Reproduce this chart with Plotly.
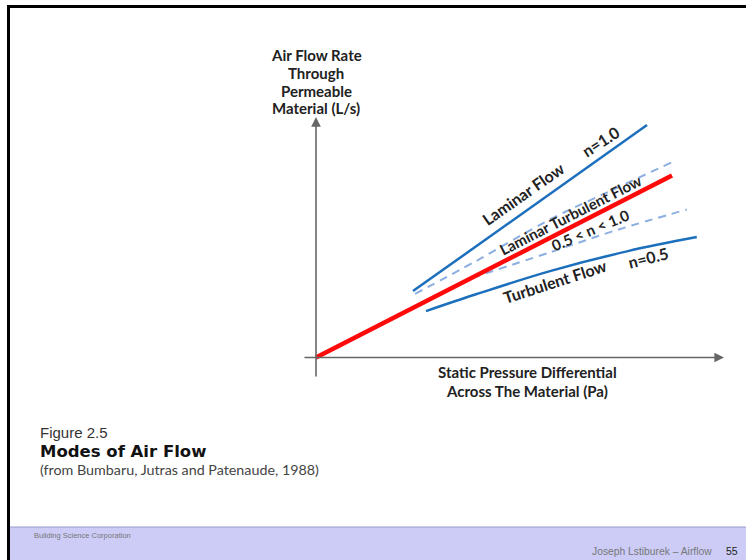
import plotly.graph_objects as go

W, H = 746, 560

# ---- data (pressure in arbitrary units, flow in arbitrary units) ----
ltf_pressure = [0, 89]
ltf_flow = [0, 45.5]

laminar_pressure = [24.25, 82.75]
laminar_flow = [16.6, 58.1]

upper_band_pressure = [24.75, 40, 58.5, 75, 88.9]
upper_band_flow = [15.9, 24.1, 34.5, 42.3, 48.8]

lower_band_pressure = [39, 58.5, 75, 92.7]
lower_band_flow = [19.9, 26.3, 31.8, 37.0]

turbulent_pressure = [27.5, 40, 58.5, 78, 95.2]
turbulent_flow = [11.6, 15.8, 21.6, 26.6, 30.1]

x_axis_extent = [-3.25, 102]
y_axis_extent = [-5.1, 60.1]

y_title_lines = ["Air Flow Rate", "Through", "Permeable", "Material (L/s)"]
x_title_lines = ["Static Pressure Differential", "Across The Material (Pa)"]

# ---- layout helpers (pixel -> paper) ----
def px(x):
    return x / W

def py(y):
    return 1 - y / H

ORIGIN_X, ORIGIN_Y, K = 316, 357.5, 4.0
xr = [(0 - ORIGIN_X) / K, (W - ORIGIN_X) / K]
yr = [(ORIGIN_Y - H) / K, (ORIGIN_Y - 0) / K]

BLUE = "#1c6fbd"
DASH = "#8caee0"
RED = "#ff0a0a"
TXT = "#222222"
LBL_FONT = "Lato"

fig = go.Figure()

fig.add_trace(go.Scatter(x=upper_band_pressure, y=upper_band_flow, mode="lines",
                         line=dict(color=DASH, width=2, dash="8px,6px", shape="spline"),
                         hoverinfo="skip"))
fig.add_trace(go.Scatter(x=lower_band_pressure, y=lower_band_flow, mode="lines",
                         line=dict(color=DASH, width=2, dash="8px,6px", shape="spline"),
                         hoverinfo="skip"))
fig.add_trace(go.Scatter(x=laminar_pressure, y=laminar_flow, mode="lines",
                         line=dict(color=BLUE, width=2.5), hoverinfo="skip"))
fig.add_trace(go.Scatter(x=turbulent_pressure, y=turbulent_flow, mode="lines",
                         line=dict(color=BLUE, width=2.5, shape="spline"), hoverinfo="skip"))
fig.add_trace(go.Scatter(x=ltf_pressure, y=ltf_flow, mode="lines",
                         line=dict(color=RED, width=4.5), hoverinfo="skip"))

annotations = []

# axes with arrows
annotations.append(dict(x=x_axis_extent[1], y=0, ax=x_axis_extent[0], ay=0,
                        xref="x", yref="y", axref="x", ayref="y", text="",
                        showarrow=True, arrowhead=2, arrowsize=1.2, arrowwidth=1.6,
                        arrowcolor="#666666", standoff=0, startstandoff=0))
annotations.append(dict(x=0, y=y_axis_extent[1], ax=0, ay=y_axis_extent[0],
                        xref="x", yref="y", axref="x", ayref="y", text="",
                        showarrow=True, arrowhead=2, arrowsize=1.2, arrowwidth=1.6,
                        arrowcolor="#666666", standoff=0, startstandoff=0))

def label(text, x, y, angle=0, size=13.5, font=LBL_FONT, color=TXT, xanchor="center",
          yanchor="middle", align="center"):
    annotations.append(dict(text=text, x=px(x), y=py(y), xref="paper", yref="paper",
                            showarrow=False, textangle=angle, xanchor=xanchor,
                            yanchor=yanchor, align=align, borderpad=0,
                            font=dict(family=font, size=size, color=color)))

# axis titles (one annotation per line for exact line spacing)
for i, line in enumerate(y_title_lines):
    label("<b>%s</b>" % line, 316, 55 + i * 17.8, size=15)
for i, line in enumerate(x_title_lines):
    label("<b>%s</b>" % line, 527, 372 + i * 19, size=15)

# curve labels
label("<b>Laminar Flow</b>", 523, 193, angle=-35, size=16)
label("<b>n=1.0</b>", 600, 141, angle=-33, size=16)
label("<b>Laminar Turbulent Flow</b>", 570, 215, angle=-27, size=15)
label("<b>0.5 &lt; n &lt; 1.0</b>", 590, 230, angle=-23, size=15)
label("<b>Turbulent Flow</b>", 554, 281, angle=-18, size=16)
label("<b>n=0.5</b>", 648, 258, angle=-14, size=16)

# caption
label("Figure 2.5", 39, 432, xanchor="left", size=15, font="Liberation Sans",
      color="#333333")
label("<b>Modes of Air Flow</b>", 39, 451, xanchor="left", size=16.5,
      font="DejaVu Sans", color="#111111")
label("(from Bumbaru, Jutras and Patenaude, 1988)", 39, 469, xanchor="left",
      size=14.3, font="Lato", color="#444444")

# footer
label("Building Science Corporation", 33, 535, xanchor="left", size=7.5,
      font="Liberation Sans", color="#777777")
label("Joseph Lstiburek \u2013 Airflow", 713, 551, xanchor="right", size=10.3,
      font="Liberation Sans", color="#777777")
label("55", 725, 551, xanchor="left", size=10.5, font="Liberation Sans",
      color="#222222")

shapes = [
    # footer band
    dict(type="rect", xref="paper", yref="paper", x0=px(10), x1=1, y0=0, y1=py(527),
         fillcolor="#ccccf7", line=dict(width=0), layer="below"),
    dict(type="line", xref="paper", yref="paper", x0=px(10), x1=1, y0=py(527), y1=py(527),
         line=dict(color="#9a9acc", width=1.2)),
    # slide border
    dict(type="line", xref="paper", yref="paper", x0=px(7), x1=1, y0=py(6.5), y1=py(6.5),
         line=dict(color="#000000", width=3)),
    dict(type="line", xref="paper", yref="paper", x0=px(8.5), x1=px(8.5), y0=py(5), y1=0,
         line=dict(color="#000000", width=3)),
]

fig.update_layout(
    width=W, height=H, autosize=False,
    margin=dict(l=0, r=0, t=0, b=0, pad=0),
    paper_bgcolor="white", plot_bgcolor="rgba(0,0,0,0)",
    showlegend=False,
    xaxis=dict(range=xr, visible=False, fixedrange=True),
    yaxis=dict(range=yr, visible=False, fixedrange=True),
    annotations=annotations,
    shapes=shapes,
)

fig.write_html(
    "out.html",
    config={"displayModeBar": False},
    post_script="document.body.style.margin='0';document.body.style.padding='0';"
                "document.body.style.overflow='hidden';",
)
